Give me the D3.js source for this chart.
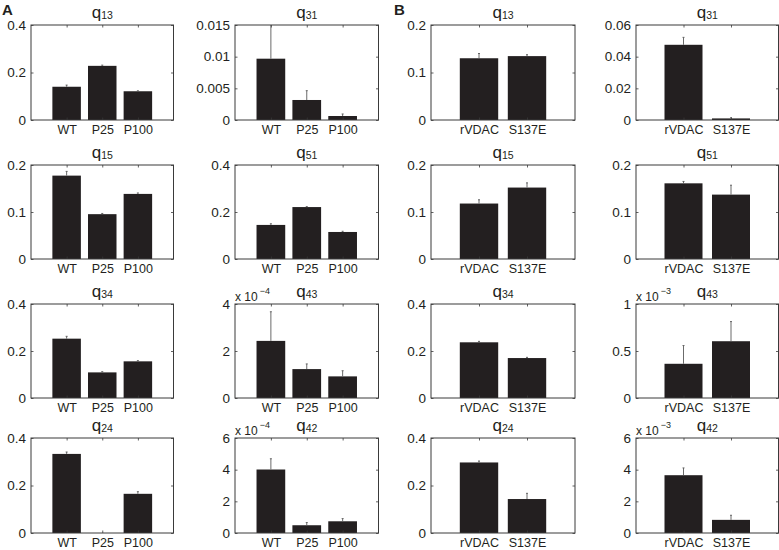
<!DOCTYPE html>
<html>
<head>
<meta charset="utf-8">
<script src="https://cdn.jsdelivr.net/npm/d3@7/dist/d3.min.js"></script>
<style>
  body { margin: 0; background: #fff; }
  svg { display: block; }
  text { font-family: "Liberation Sans", Arial, sans-serif; fill: #231f20; }
</style>
</head>
<body>
<svg id="chart" width="779" height="550"></svg>
<script>
// ---------- data ----------
const groupsA = ["WT", "P25", "P100"];
const groupsB = ["rVDAC", "S137E"];

// means and error (SD) per panel
const q13A = [0.140, 0.228, 0.121];      const q13A_err = [0.007, 0.003, 0.002];
const q31A = [0.00968, 0.00316, 0.00063]; const q31A_err = [0.0062, 0.00147, 0.00032];
const q13B = [0.130, 0.1345];            const q13B_err = [0.010, 0.003];
const q31B = [0.0475, 0.001];            const q31B_err = [0.0047, 0.0004];

const q15A = [0.1774, 0.0954, 0.1385];   const q15A_err = [0.009, 0.0015, 0.002];
const q51A = [0.145, 0.221, 0.115];      const q51A_err = [0.005, 0.002, 0.003];
const q15B = [0.118, 0.152];             const q15B_err = [0.008, 0.010];
const q51B = [0.161, 0.137];             const q51B_err = [0.004, 0.020];

const q34A = [0.2525, 0.109, 0.156];     const q34A_err = [0.010, 0.003, 0.003];
const q43A = [2.43e-4, 1.23e-4, 0.92e-4]; const q43A_err = [1.24e-4, 0.22e-4, 0.24e-4];
const q34B = [0.237, 0.170];             const q34B_err = [0.004, 0.003];
const q43B = [0.364e-3, 0.604e-3];       const q43B_err = [0.194e-3, 0.209e-3];

const q24A = [0.333, 0, 0.165];          const q24A_err = [0.008, 0, 0.009];
const q42A = [4.01e-4, 0.49e-4, 0.74e-4]; const q42A_err = [0.68e-4, 0.17e-4, 0.17e-4];
const q24B = [0.297, 0.143];             const q24B_err = [0.006, 0.024];
const q42B = [3.65e-3, 0.83e-3];         const q42B_err = [0.46e-3, 0.29e-3];

// y tick values (real units)
const ticksA1 = [0, 0.2, 0.4];
const ticksA2 = [0, 0.005, 0.01, 0.015];
const ticksB1 = [0, 0.1, 0.2];
const ticksB2 = [0, 0.02, 0.04, 0.06];
const ticksA3 = [0, 0.1, 0.2];
const ticksA4 = [0, 0.2, 0.4];
const ticksB3 = [0, 0.1, 0.2];
const ticksB4 = [0, 0.1, 0.2];
const ticksA5 = [0, 0.2, 0.4];
const ticksA6 = [0, 2e-4, 4e-4];
const ticksB5 = [0, 0.2, 0.4];
const ticksB6 = [0, 0.5e-3, 1e-3];
const ticksA7 = [0, 0.2, 0.4];
const ticksA8 = [0, 2e-4, 4e-4, 6e-4];
const ticksB7 = [0, 0.2, 0.4];
const ticksB8 = [0, 2e-3, 4e-3, 6e-3];

const panels = [
  {sub: "13", g: groupsA, v: q13A, e: q13A_err, t: ticksA1, exp: 0},
  {sub: "31", g: groupsA, v: q31A, e: q31A_err, t: ticksA2, exp: 0},
  {sub: "13", g: groupsB, v: q13B, e: q13B_err, t: ticksB1, exp: 0},
  {sub: "31", g: groupsB, v: q31B, e: q31B_err, t: ticksB2, exp: 0},
  {sub: "15", g: groupsA, v: q15A, e: q15A_err, t: ticksA3, exp: 0},
  {sub: "51", g: groupsA, v: q51A, e: q51A_err, t: ticksA4, exp: 0},
  {sub: "15", g: groupsB, v: q15B, e: q15B_err, t: ticksB3, exp: 0},
  {sub: "51", g: groupsB, v: q51B, e: q51B_err, t: ticksB4, exp: 0},
  {sub: "34", g: groupsA, v: q34A, e: q34A_err, t: ticksA5, exp: 0},
  {sub: "43", g: groupsA, v: q43A, e: q43A_err, t: ticksA6, exp: -4},
  {sub: "34", g: groupsB, v: q34B, e: q34B_err, t: ticksB5, exp: 0},
  {sub: "43", g: groupsB, v: q43B, e: q43B_err, t: ticksB6, exp: -3},
  {sub: "24", g: groupsA, v: q24A, e: q24A_err, t: ticksA7, exp: 0},
  {sub: "42", g: groupsA, v: q42A, e: q42A_err, t: ticksA8, exp: -4},
  {sub: "24", g: groupsB, v: q24B, e: q24B_err, t: ticksB7, exp: 0},
  {sub: "42", g: groupsB, v: q42B, e: q42B_err, t: ticksB8, exp: -3}
];

// ---------- layout ----------
const colX = [31, 235, 431, 636];
const colW = [142.5, 143.5, 144, 142.5];
const rowY = [25, 165, 304, 438];
const rowH = [95, 94, 94, 95];
const tickLen = 2.5;
const barColor = "#231f20";
const boxColor = "#3a3a3a";

const svg = d3.select("#chart");

svg.append("text").attr("x", 2).attr("y", 15)
  .style("font-weight", "bold").style("font-size", "15px").text("A");
svg.append("text").attr("x", 394).attr("y", 15)
  .style("font-weight", "bold").style("font-size", "15px").text("B");

panels.forEach((p, i) => {
  const r = Math.floor(i / 4), c = i % 4;
  const x0 = colX[c], y0 = rowY[r], w = colW[c], h = rowH[r];
  const n = p.g.length;
  const g = svg.append("g").attr("transform", `translate(${x0},${y0})`);

  const x = d3.scaleLinear().domain([0, n + 1]).range([0, w]);
  const yMax = p.t[p.t.length - 1];
  const y = d3.scaleLinear().domain([0, yMax]).range([h, 0]);
  const step = x(1) - x(0);
  const bw = step * 0.8;

  const clipId = "clip" + i;
  g.append("clipPath").attr("id", clipId)
    .append("rect").attr("x", 0).attr("y", 0).attr("width", w).attr("height", h);

  const plot = g.append("g").attr("clip-path", `url(#${clipId})`);

  // bars
  plot.selectAll("rect.bar").data(p.v).enter().append("rect")
    .attr("class", "bar")
    .attr("x", (d, k) => x(k + 1) - bw / 2)
    .attr("width", bw)
    .attr("y", d => y(d))
    .attr("height", d => h - y(d))
    .attr("fill", barColor);

  // error bars (upper half visible above bar)
  const eb = plot.selectAll("g.err").data(p.v.map((d, k) => ({m: d, e: p.e[k], k})))
    .enter().append("g").attr("class", "err");
  eb.filter(d => d.e > 0).append("line")
    .attr("x1", d => x(d.k + 1)).attr("x2", d => x(d.k + 1))
    .attr("y1", d => y(d.m)).attr("y2", d => y(d.m + d.e))
    .attr("stroke", "#5a5a5a").attr("stroke-width", 0.9);
  eb.filter(d => d.e > 0).append("line")
    .attr("x1", d => x(d.k + 1) - 1).attr("x2", d => x(d.k + 1) + 1)
    .attr("y1", d => y(d.m + d.e)).attr("y2", d => y(d.m + d.e))
    .attr("stroke", "#5a5a5a").attr("stroke-width", 0.9);

  // box
  g.append("rect").attr("x", 0).attr("y", 0).attr("width", w).attr("height", h)
    .attr("fill", "none").attr("stroke", boxColor).attr("stroke-width", 1);

  // axes (ticks inward) on all four sides
  const scaleF = Math.pow(10, -p.exp);
  const fmt = d => String(+(d * scaleF).toPrecision(6));
  const yl = g.append("g").call(d3.axisLeft(y).tickValues(p.t).tickSize(-tickLen).tickPadding(5).tickFormat(fmt));
  const yr = g.append("g").attr("transform", `translate(${w},0)`)
    .call(d3.axisRight(y).tickValues(p.t).tickSize(-tickLen).tickFormat(""));
  const xb = g.append("g").attr("transform", `translate(0,${h})`)
    .call(d3.axisBottom(x).tickValues(d3.range(1, n + 1)).tickSize(-tickLen).tickPadding(5)
      .tickFormat(d => p.g[d - 1]));
  const xt = g.append("g")
    .call(d3.axisTop(x).tickValues(d3.range(1, n + 1)).tickSize(-tickLen).tickFormat(""));

  [yl, yr, xb, xt].forEach(a => {
    a.select(".domain").remove();
    a.selectAll(".tick line").attr("stroke", boxColor).attr("stroke-width", 0.8);
    a.selectAll(".tick text").attr("fill", "#231f20").style("font-family", "Liberation Sans, Arial, sans-serif");
  });
  yl.selectAll(".tick text").style("font-size", "13.5px");
  xb.selectAll(".tick text").style("font-size", "12.5px");

  // title
  const tt = g.append("text").attr("x", w / 2).attr("y", -7)
    .attr("text-anchor", "middle").style("font-size", "17px");
  tt.append("tspan").text("q");
  tt.append("tspan").attr("dy", 1).style("font-size", "10.5px").text(p.sub);

  // exponent label
  if (p.exp !== 0) {
    const et = g.append("text").attr("x", 0).attr("y", -3).style("font-size", "12px");
    et.append("tspan").text("x 10");
    et.append("tspan").attr("dx", 2).attr("dy", -7).style("font-size", "9px").text("\u2212" + Math.abs(p.exp));
  }
});
</script>
</body>
</html>
